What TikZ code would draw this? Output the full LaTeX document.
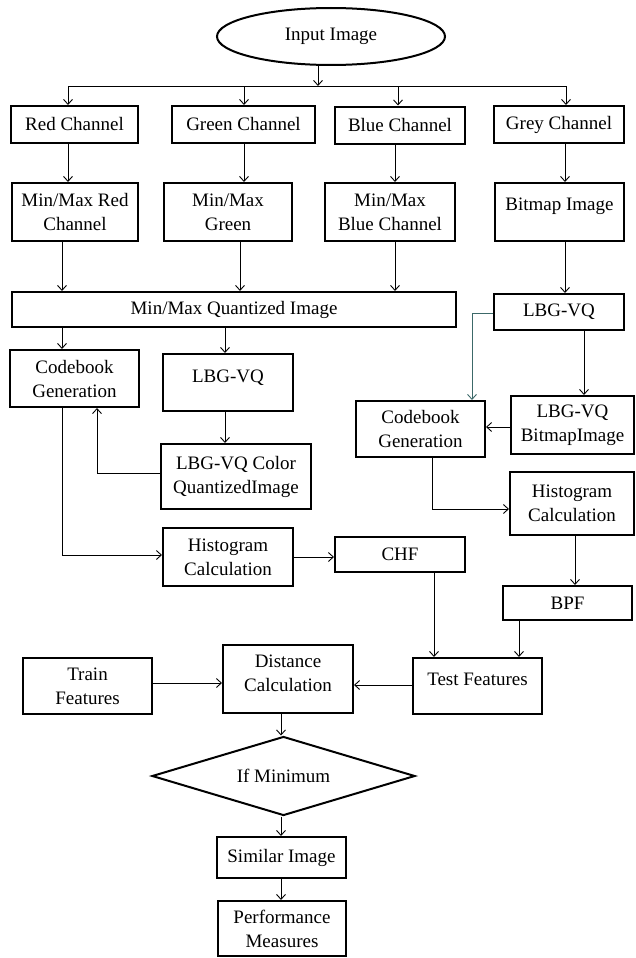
\documentclass[tikz,border=0pt]{standalone}
\usepackage{fontspec}
\setmainfont{Liberation Serif}
\usetikzlibrary{shapes.geometric,arrows.meta}
\definecolor{tealc}{RGB}{60,105,105}
\newcommand\upt[2]{\raisebox{#1}[\height][\depth]{#2}}
\begin{document}
\begin{tikzpicture}[x=1pt,y=-1pt,
  box/.style={draw, line width=2pt, rectangle, inner sep=0pt, align=center,
              font=\fontsize{19}{24}\selectfont},
  arr/.style={line width=0.9pt, -{Straight Barb[length=5pt,width=9pt]}},
  ln/.style={line width=0.9pt}]
\fill[white] (0,0) rectangle (636,958);
\useasboundingbox (0,0) rectangle (636,958);

% nodes
\node[box, ellipse, minimum width=228pt, minimum height=57pt] (in) at (331,36.5) {Input Image};

\node[box, minimum width=127pt, minimum height=37pt] (red)   at (74.5,124.5) {Red Channel};
\node[box, minimum width=143pt, minimum height=37pt] (green) at (243.5,124.5) {Green Channel};
\node[box, minimum width=130pt, minimum height=37pt] (blue)  at (400,125) {Blue Channel};
\node[box, minimum width=130pt, minimum height=37pt] (grey)  at (559,124.5) {Grey Channel};

\node[box, minimum width=126pt, minimum height=58pt] (mmred)   at (75,212) {Min/Max Red\\Channel};
\node[box, minimum width=128pt, minimum height=58pt] (mmgreen) at (228,212) {Min/Max\\Green};
\node[box, minimum width=130pt, minimum height=58pt] (mmblue)  at (390,212) {Min/Max\\Blue Channel};
\node[box, minimum width=129pt, minimum height=58pt] (bitmap)  at (559.5,212) {\upt{6pt}{Bitmap Image}};

\node[box, minimum width=444pt, minimum height=35pt] (quant) at (234,309.5) {Min/Max Quantized Image};
\node[box, minimum width=130pt, minimum height=36pt] (lbgR)  at (559,312) {LBG-VQ};

\node[box, minimum width=129pt, minimum height=57pt] (cbL)  at (74.5,378.5) {Codebook\\Generation};
\node[box, minimum width=130pt, minimum height=57pt] (lbgL) at (228,382.5) {\upt{5pt}{LBG-VQ}};
\node[box, minimum width=150pt, minimum height=65pt] (lbgC) at (236,476.5) {LBG-VQ Color\\QuantizedImage};
\node[box, minimum width=130pt, minimum height=58pt] (histL) at (228,557) {Histogram\\Calculation};
\node[box, minimum width=130pt, minimum height=35pt] (chf) at (400,554.5) {CHF};

\node[box, minimum width=129pt, minimum height=56pt] (cbR)  at (420.5,429) {Codebook\\Generation};
\node[box, minimum width=123pt, minimum height=58pt] (lbgB) at (572.5,425) {LBG-VQ\\BitmapImage};
\node[box, minimum width=124pt, minimum height=63pt] (histR) at (572,503.5) {Histogram\\Calculation};
\node[box, minimum width=129pt, minimum height=34pt] (bpf) at (567.5,603) {BPF};

\node[box, minimum width=129pt, minimum height=56pt] (test)  at (477.5,686) {\upt{7pt}{Test Features}};
\node[box, minimum width=130pt, minimum height=68pt] (dist)  at (288,679) {\upt{4pt}{\begin{tabular}{@{}c@{}}Distance\\Calculation\end{tabular}}};
\node[box, minimum width=129pt, minimum height=56pt] (train) at (87.5,686) {Train\\Features};

\node[box, diamond, aspect=3.33, minimum width=263pt, minimum height=79pt] (dia) at (283.5,776) {If Minimum};
\node[box, minimum width=129pt, minimum height=41pt] (sim)  at (281.5,857.5) {Similar Image};
\node[box, minimum width=128pt, minimum height=55pt] (perf) at (282,928.5) {Performance\\Measures};

% helper coordinates
\coordinate (b0) at (318,86);
\coordinate (b1) at (68,86);
\coordinate (b2) at (244,86);
\coordinate (b3) at (398,86);
\coordinate (b4) at (566,86);
\coordinate (c1) at (62,0);
\coordinate (c2) at (240,0);
\coordinate (c3) at (395,0);
\coordinate (c4) at (565,0);
\coordinate (c5) at (225,0);
\coordinate (c6) at (584,0);
\coordinate (c7) at (575,0);
\coordinate (c8) at (434,0);
\coordinate (c9) at (519,0);
\coordinate (c10) at (281,0);
\coordinate (r1) at (97,473);
\coordinate (r2) at (62,555);
\coordinate (r3) at (472,313);
\coordinate (r4) at (0,427);
\coordinate (r5) at (432,509);
\coordinate (r6) at (0,685);
\coordinate (r7) at (0,683);

% connectors
\draw[arr] (in.south -| b0) -- (b0);
\draw[ln] (b1) -- (b4);
\draw[arr] (b1) -- (b1 |- red.north);
\draw[arr] (b2) -- (b2 |- green.north);
\draw[arr] (b3) -- (b3 |- blue.north);
\draw[arr] (b4) -- (b4 |- grey.north);

\draw[arr] (red.south -| b1) -- (mmred.north -| b1);
\draw[arr] (green.south -| b2) -- (mmgreen.north -| b2);
\draw[arr] (blue.south -| c3) -- (mmblue.north -| c3);
\draw[arr] (grey.south -| c4) -- (bitmap.north -| c4);

\draw[arr] (mmred.south -| c1) -- (quant.north -| c1);
\draw[arr] (mmgreen.south -| c2) -- (quant.north -| c2);
\draw[arr] (mmblue.south -| c3) -- (quant.north -| c3);
\draw[arr] (bitmap.south -| c4) -- (lbgR.north -| c4);

\draw[arr] (quant.south -| c1) -- (cbL.north -| c1);
\draw[arr] (quant.south -| c5) -- (lbgL.north -| c5);
\draw[arr] (lbgL.south -| c5) -- (lbgC.north -| c5);
\draw[arr] (lbgC.west |- r1) -| (cbL.south -| r1);
\draw[arr] (cbL.south -| r2) |- (histL.west |- r2);
\draw[arr] (histL.east) -- (histL.east -| chf.west);

\draw[arr, tealc] (lbgR.west |- r3) -| (cbR.north -| r3);
\draw[arr] (lbgR.south -| c6) -- (lbgB.north -| c6);
\draw[arr] (lbgB.west |- r4) -- (cbR.east |- r4);
\draw[arr] (cbR.south -| r5) |- (histR.west |- r5);
\draw[arr] (histR.south -| c7) -- (bpf.north -| c7);

\draw[arr] (chf.south -| c8) -- (test.north -| c8);
\draw[arr] (bpf.south -| c9) -- (test.north -| c9);
\draw[arr] (test.west |- r6) -- (dist.east |- r6);
\draw[arr] (train.east |- r7) -- (dist.west |- r7);
\draw[arr] (dist.south -| c10) -- (dia.north -| c10);
\draw[arr] (dia.south -| c10) -- (sim.north -| c10);
\draw[arr] (sim.south -| c10) -- (perf.north -| c10);
\end{tikzpicture}
\end{document}
